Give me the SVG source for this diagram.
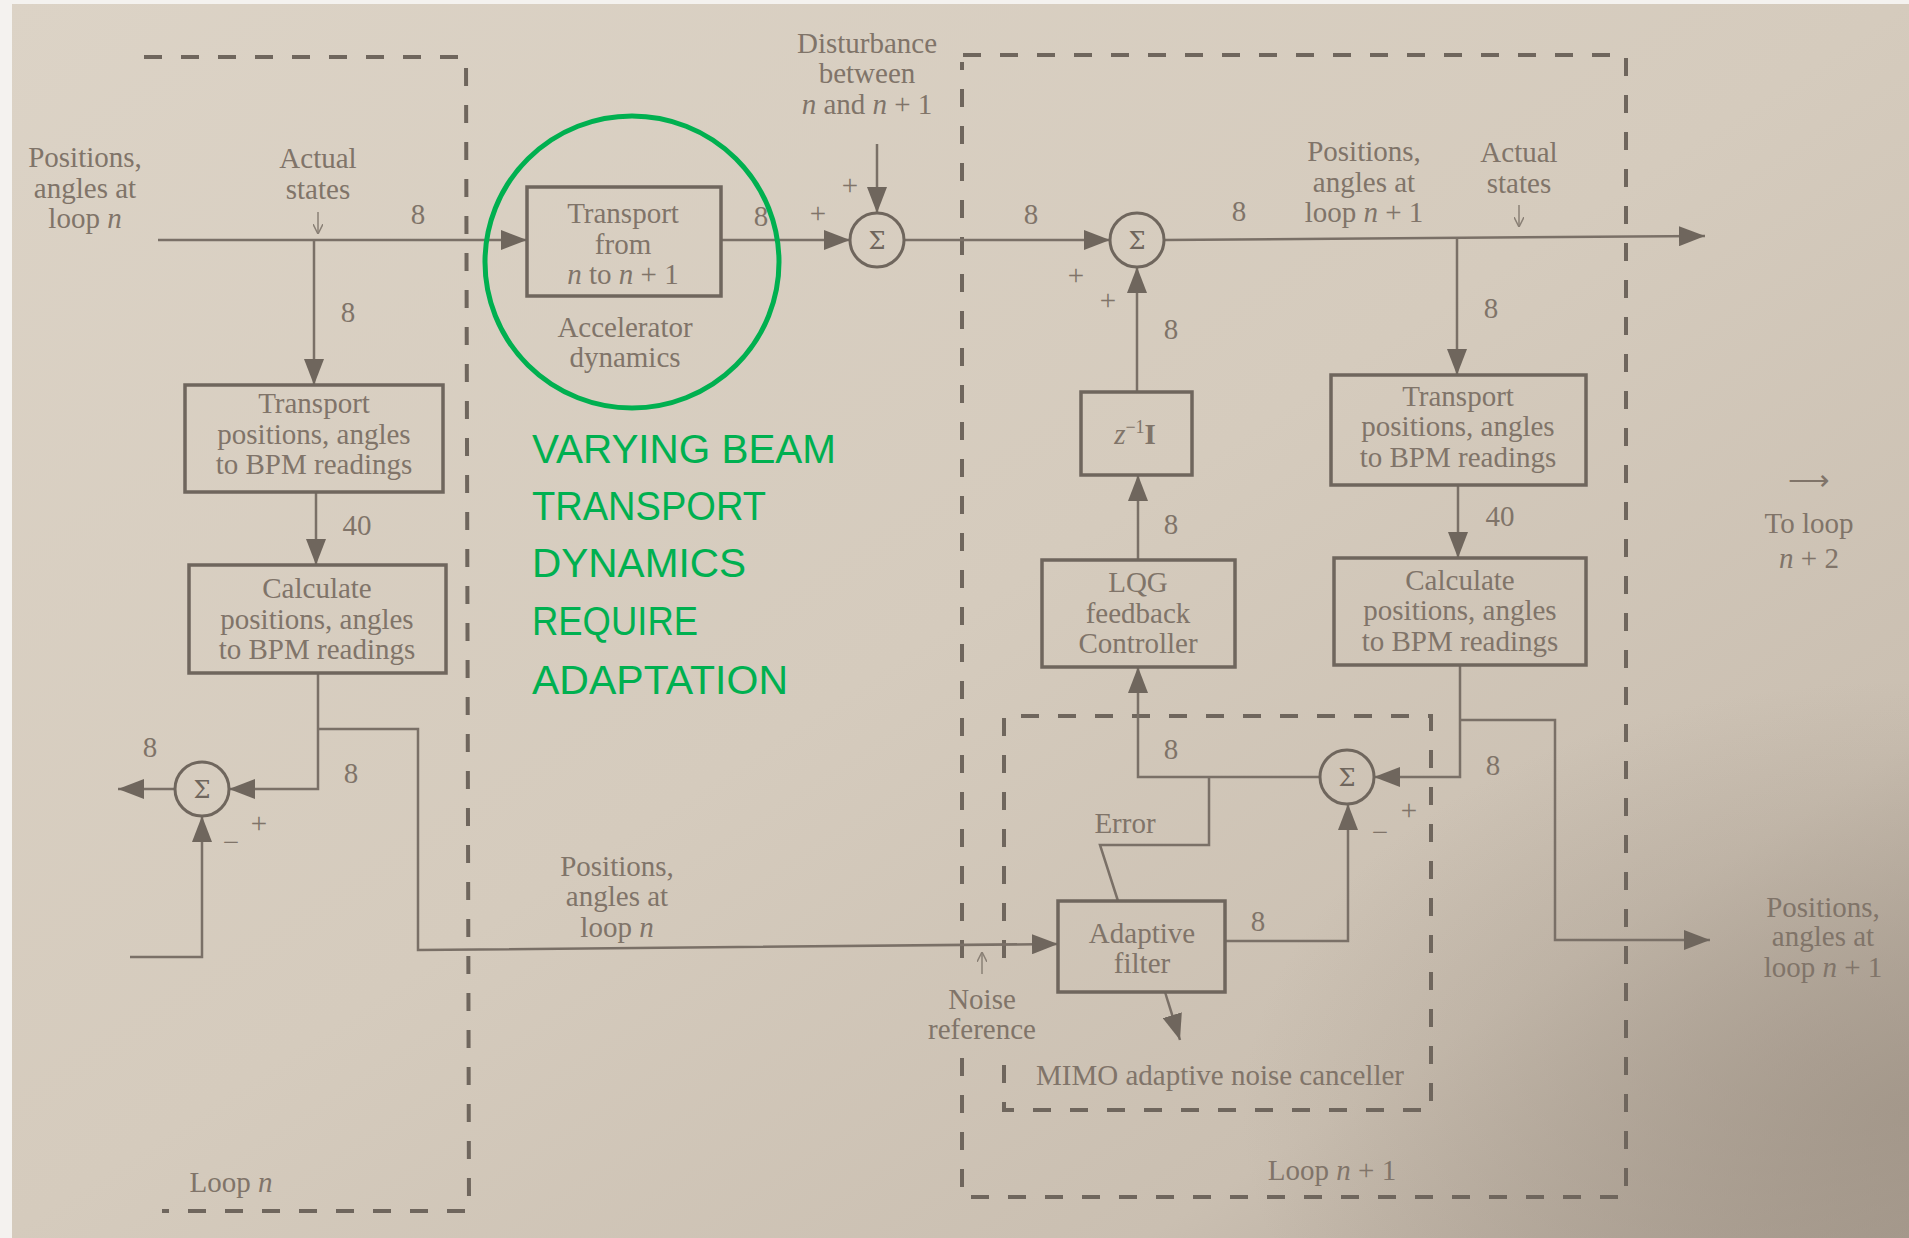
<svg xmlns="http://www.w3.org/2000/svg" width="1909" height="1238" viewBox="0 0 1909 1238">
<defs>
<linearGradient id="paper" x1="0" y1="0" x2="1" y2="1">
<stop offset="0" stop-color="#dcd3c6"/>
<stop offset="0.5" stop-color="#d5cbbd"/>
<stop offset="0.8" stop-color="#cabfb1"/>
<stop offset="1" stop-color="#ab9f92"/>
</linearGradient>
<radialGradient id="shade" cx="1" cy="0.9" r="0.35">
<stop offset="0" stop-color="#9d9184" stop-opacity="0.7"/>
<stop offset="1" stop-color="#9d9184" stop-opacity="0"/>
</radialGradient>
<marker id="ah" markerUnits="userSpaceOnUse" markerWidth="26" markerHeight="20" viewBox="0 0 26 20" refX="26" refY="10" orient="auto">
<path d="M0,0 L26,10 L0,20 Z" fill="#6f665d"/>
</marker>
<marker id="sa" markerUnits="userSpaceOnUse" markerWidth="10" markerHeight="10" viewBox="0 0 10 10" refX="10" refY="5" orient="auto">
<path d="M0,0 L10,5 L0,10" fill="none" stroke="#8a8076" stroke-width="1.5"/>
</marker>
<style>
.t{font-family:"Liberation Serif","Times New Roman",serif;font-size:29px;fill:#807469;text-anchor:middle}
.bx{fill:none;stroke:#6f665d;stroke-width:3.5}
.ln{fill:none;stroke:#7a7067;stroke-width:2.5}
.dash{fill:none;stroke:#6f665d;stroke-width:4;stroke-dasharray:18 19}
.sum{fill:none;stroke:#6f665d;stroke-width:3}
.sg{font-family:"DejaVu Serif","Liberation Serif",serif;font-size:24px;fill:#6f665d;text-anchor:middle}
.g{font-family:"Liberation Sans","Arial",sans-serif;font-size:41px;fill:#00b050}
</style>
</defs>
<rect x="0" y="0" width="1909" height="1238" fill="url(#paper)"/>
<rect x="0" y="0" width="1909" height="1238" fill="url(#shade)"/>
<rect x="0" y="0" width="12" height="1238" fill="#f4f2ef"/>
<rect x="0" y="0" width="1909" height="4" fill="#f4f2ef"/>

<g id="boundaries">
<path class="dash" d="M144,57 L466,57 L469,1211 L162,1211"/>
<path class="dash" d="M962,958 L962,62 M962,1058 L962,1197 L1626,1197 L1626,55 L962,55"/>
<path class="dash" d="M1004,958 L1004,716 L1431,716 L1431,1110 L1004,1110 L1004,1058"/>
</g>

<g id="connectors">
<line class="ln" x1="158" y1="240" x2="527" y2="240" marker-end="url(#ah)"/>
<line class="ln" x1="721" y1="240" x2="850" y2="240" marker-end="url(#ah)"/>
<line class="ln" x1="877" y1="144" x2="877" y2="213" marker-end="url(#ah)"/>
<line class="ln" x1="904" y1="240" x2="1110" y2="240" marker-end="url(#ah)"/>
<line class="ln" x1="1164" y1="240" x2="1705" y2="236" marker-end="url(#ah)"/>
<line class="ln" x1="314" y1="240" x2="314" y2="385" marker-end="url(#ah)"/>
<line class="ln" x1="316" y1="492" x2="316" y2="565" marker-end="url(#ah)"/>
<polyline class="ln" points="318,673 318,789 229,789" marker-end="url(#ah)"/>
<polyline class="ln" points="318,729 418,729 418,950 1058,944" marker-end="url(#ah)"/>
<line class="ln" x1="175" y1="789" x2="118" y2="789" marker-end="url(#ah)"/>
<polyline class="ln" points="130,957 202,957 202,816" marker-end="url(#ah)"/>
<line class="ln" x1="1457" y1="238" x2="1457" y2="375" marker-end="url(#ah)"/>
<line class="ln" x1="1458" y1="485" x2="1458" y2="558" marker-end="url(#ah)"/>
<polyline class="ln" points="1460,665 1460,777 1374,777" marker-end="url(#ah)"/>
<polyline class="ln" points="1460,720 1555,720 1555,940 1710,940" marker-end="url(#ah)"/>
<polyline class="ln" points="1320,777 1138,777 1138,667" marker-end="url(#ah)"/>
<line class="ln" x1="1138" y1="560" x2="1138" y2="475" marker-end="url(#ah)"/>
<line class="ln" x1="1137" y1="392" x2="1137" y2="267" marker-end="url(#ah)"/>
<polyline class="ln" points="1209,777 1209,845 1100,845 1118,901"/>
<polyline class="ln" points="1225,941 1348,941 1348,804" marker-end="url(#ah)"/>
<line class="ln" x1="1165" y1="992" x2="1180" y2="1040" marker-end="url(#ah)"/>
<line x1="318" y1="212" x2="318" y2="234" stroke="#8a8076" stroke-width="1.5" marker-end="url(#sa)"/>
<line x1="1519" y1="205" x2="1519" y2="227" stroke="#8a8076" stroke-width="1.5" marker-end="url(#sa)"/>
<line x1="982" y1="974" x2="982" y2="952" stroke="#8a8076" stroke-width="1.5" marker-end="url(#sa)"/>
</g>

<g id="transport-n">
<rect class="bx" x="527" y="187" width="194" height="109"/>
<text class="t" x="623" y="223">Transport</text>
<text class="t" x="623" y="254">from</text>
<text class="t" x="623" y="284"><tspan font-style="italic">n</tspan> to <tspan font-style="italic">n</tspan> + 1</text>
<text class="t" x="625" y="337">Accelerator</text>
<text class="t" x="625" y="367">dynamics</text>
</g>

<g id="left-transport">
<rect class="bx" x="185" y="385" width="258" height="107"/>
<text class="t" x="314" y="413">Transport</text>
<text class="t" x="314" y="444">positions, angles</text>
<text class="t" x="314" y="474">to BPM readings</text>
</g>

<g id="left-calculate">
<rect class="bx" x="189" y="565" width="257" height="108"/>
<text class="t" x="317" y="598">Calculate</text>
<text class="t" x="317" y="629">positions, angles</text>
<text class="t" x="317" y="659">to BPM readings</text>
</g>

<g id="sum-left">
<circle class="sum" cx="202" cy="789" r="27"/>
<text class="sg" x="202" y="798">Σ</text>
</g>
<g id="sum-1">
<circle class="sum" cx="877" cy="240" r="27"/>
<text class="sg" x="877" y="249">Σ</text>
</g>
<g id="sum-2">
<circle class="sum" cx="1137" cy="240" r="27"/>
<text class="sg" x="1137" y="249">Σ</text>
</g>
<g id="sum-3">
<circle class="sum" cx="1347" cy="777" r="27"/>
<text class="sg" x="1347" y="786">Σ</text>
</g>

<g id="delay">
<rect class="bx" x="1081" y="392" width="111" height="83"/>
<text class="t" x="1135" y="444"><tspan font-style="italic">z</tspan><tspan dy="-11" font-size="18">−1</tspan><tspan dy="11" font-weight="bold">I</tspan></text>
</g>

<g id="lqg">
<rect class="bx" x="1042" y="560" width="193" height="107"/>
<text class="t" x="1138" y="592">LQG</text>
<text class="t" x="1138" y="623">feedback</text>
<text class="t" x="1138" y="653">Controller</text>
</g>

<g id="right-transport">
<rect class="bx" x="1331" y="375" width="255" height="110"/>
<text class="t" x="1458" y="406">Transport</text>
<text class="t" x="1458" y="436">positions, angles</text>
<text class="t" x="1458" y="467">to BPM readings</text>
</g>

<g id="right-calculate">
<rect class="bx" x="1334" y="558" width="252" height="107"/>
<text class="t" x="1460" y="590">Calculate</text>
<text class="t" x="1460" y="620">positions, angles</text>
<text class="t" x="1460" y="651">to BPM readings</text>
</g>

<g id="adaptive-filter">
<rect class="bx" x="1058" y="901" width="167" height="91"/>
<text class="t" x="1142" y="943">Adaptive</text>
<text class="t" x="1142" y="973">filter</text>
</g>

<g id="labels">
<text class="t" x="85" y="167">Positions,</text>
<text class="t" x="85" y="198">angles at</text>
<text class="t" x="85" y="228">loop <tspan font-style="italic">n</tspan></text>
<text class="t" x="318" y="168">Actual</text>
<text class="t" x="318" y="199">states</text>
<text class="t" x="418" y="224">8</text>
<text class="t" x="348" y="322">8</text>
<text class="t" x="357" y="535">40</text>
<text class="t" x="150" y="757">8</text>
<text class="t" x="351" y="783">8</text>
<text class="t" x="259" y="833">+</text>
<text class="t" x="231" y="852">−</text>
<text class="t" x="231" y="1192">Loop <tspan font-style="italic">n</tspan></text>
<text class="t" x="867" y="53">Disturbance</text>
<text class="t" x="867" y="83">between</text>
<text class="t" x="867" y="114"><tspan font-style="italic">n</tspan> and <tspan font-style="italic">n</tspan> + 1</text>
<text class="t" x="761" y="226">8</text>
<text class="t" x="818" y="223">+</text>
<text class="t" x="850" y="195">+</text>
<text class="t" x="1031" y="224">8</text>
<text class="t" x="1076" y="285">+</text>
<text class="t" x="1108" y="310">+</text>
<text class="t" x="1239" y="221">8</text>
<text class="t" x="1364" y="161">Positions,</text>
<text class="t" x="1364" y="192">angles at</text>
<text class="t" x="1364" y="222">loop <tspan font-style="italic">n</tspan> + 1</text>
<text class="t" x="1519" y="162">Actual</text>
<text class="t" x="1519" y="193">states</text>
<text class="t" x="1491" y="318">8</text>
<text class="t" x="1171" y="339">8</text>
<text class="t" x="1171" y="534">8</text>
<text class="t" x="1500" y="526">40</text>
<text class="t" x="1171" y="759">8</text>
<text class="t" x="1493" y="775">8</text>
<text class="t" x="1409" y="820">+</text>
<text class="t" x="1380" y="842">−</text>
<text class="t" x="1125" y="833">Error</text>
<text class="t" x="1258" y="931">8</text>
<text class="t" x="617" y="876">Positions,</text>
<text class="t" x="617" y="906">angles at</text>
<text class="t" x="617" y="937">loop <tspan font-style="italic">n</tspan></text>
<text class="t" x="982" y="1009">Noise</text>
<text class="t" x="982" y="1039">reference</text>
<text class="t" x="1220" y="1085">MIMO adaptive noise canceller</text>
<text class="t" x="1332" y="1180">Loop <tspan font-style="italic">n</tspan> + 1</text>
<text class="t" x="1809" y="490" font-size="20">⟶</text>
<text class="t" x="1809" y="533">To loop</text>
<text class="t" x="1809" y="568"><tspan font-style="italic">n</tspan> + 2</text>
<text class="t" x="1823" y="917">Positions,</text>
<text class="t" x="1823" y="946">angles at</text>
<text class="t" x="1823" y="977">loop <tspan font-style="italic">n</tspan> + 1</text>
</g>

<g id="annotation">
<ellipse cx="632" cy="262" rx="147" ry="146" fill="none" stroke="#00b050" stroke-width="5"/>
<text class="g" x="532" y="463" textLength="304" lengthAdjust="spacingAndGlyphs">VARYING BEAM</text>
<text class="g" x="532" y="520" textLength="234" lengthAdjust="spacingAndGlyphs">TRANSPORT</text>
<text class="g" x="532" y="577" textLength="214" lengthAdjust="spacingAndGlyphs">DYNAMICS</text>
<text class="g" x="532" y="635" textLength="166" lengthAdjust="spacingAndGlyphs">REQUIRE</text>
<text class="g" x="532" y="694" textLength="256" lengthAdjust="spacingAndGlyphs">ADAPTATION</text>
</g>
</svg>
